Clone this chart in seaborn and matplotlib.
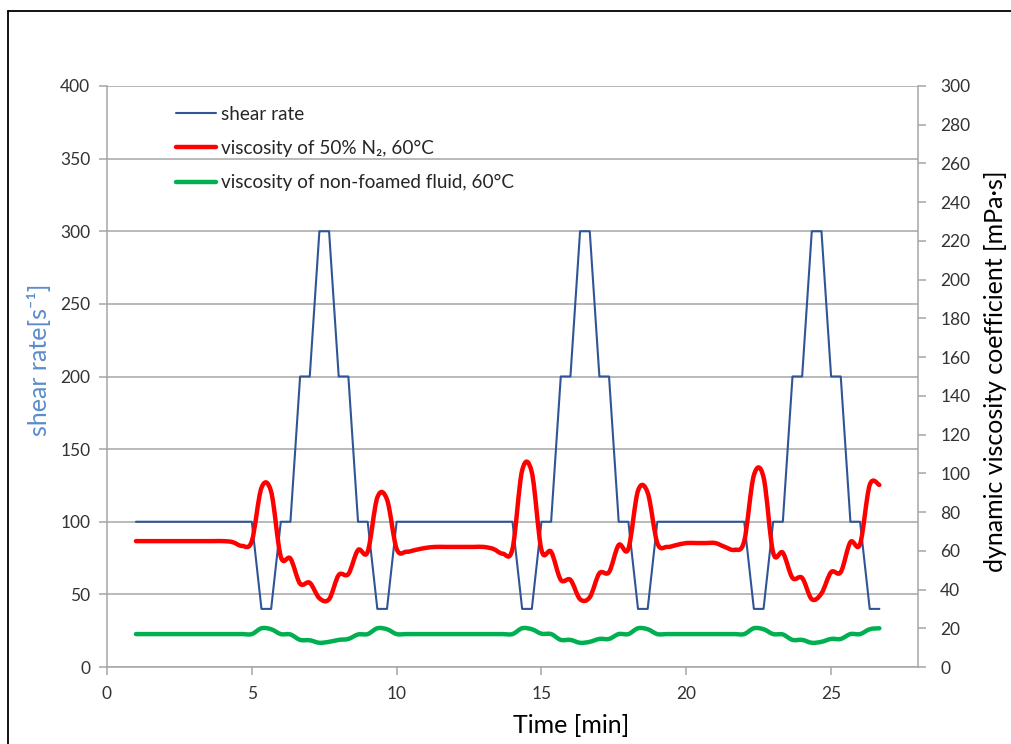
import numpy as np
import matplotlib
matplotlib.use("Agg")
import matplotlib.pyplot as plt
import seaborn as sns
import pandas as pd
from matplotlib.path import Path
from matplotlib.patches import PathPatch
from matplotlib.lines import Line2D

# ---------------- data (sampled every 20 s) ----------------
time_min = [1.0, 1.333, 1.667, 2.0, 2.333, 2.667, 3.0, 3.333, 3.667, 4.0,
            4.333, 4.667, 5.0, 5.333, 5.667, 6.0, 6.333, 6.667, 7.0, 7.333,
            7.667, 8.0, 8.333, 8.667, 9.0, 9.333, 9.667, 10.0, 10.333, 10.667,
            11.0, 11.333, 11.667, 12.0, 12.333, 12.667, 13.0, 13.333, 13.667, 14.0,
            14.333, 14.667, 15.0, 15.333, 15.667, 16.0, 16.333, 16.667, 17.0, 17.333,
            17.667, 18.0, 18.333, 18.667, 19.0, 19.333, 19.667, 20.0, 20.333, 20.667,
            21.0, 21.333, 21.667, 22.0, 22.333, 22.667, 23.0, 23.333, 23.667, 24.0,
            24.333, 24.667, 25.0, 25.333, 25.667, 26.0, 26.333, 26.667]

shear_rate = [100, 100, 100, 100, 100, 100, 100, 100, 100, 100,
              100, 100, 100, 40, 40, 100, 100, 200, 200, 300,
              300, 200, 200, 100, 100, 40, 40, 100, 100, 100,
              100, 100, 100, 100, 100, 100, 100, 100, 100, 100,
              40, 40, 100, 100, 200, 200, 300, 300, 200, 200,
              100, 100, 40, 40, 100, 100, 100, 100, 100, 100,
              100, 100, 100, 100, 40, 40, 100, 100, 200, 200,
              300, 300, 200, 200, 100, 100, 40, 40]

visc_foamed = [65, 65, 65, 65, 65, 65, 65, 65, 65, 65,
               64.5, 62.5, 65, 92.5, 90.5, 57, 56, 43, 43.5, 35.5,
               35, 47.5, 48, 60.4, 59.5, 87.5, 86.5, 61, 59.5, 60.5,
               61.5, 62, 62, 62, 62, 62, 62, 61, 58.5, 61,
               101.5, 100.5, 60.4, 59.5, 45, 45, 35, 36, 48.4, 49,
               63, 61, 91, 90, 64, 62, 63, 64, 64, 64,
               64, 62, 60.5, 65, 99, 98, 59, 59, 46, 46,
               35, 38, 49, 49, 64.5, 63.5, 94, 94]

visc_base = [17, 17, 17, 17, 17, 17, 17, 17, 17, 17,
             17, 17, 17, 20, 19.5, 17, 16.8, 14, 13.8, 12.5,
             13, 14, 14.5, 16.8, 17, 20, 19.5, 17, 17, 17,
             17, 17, 17, 17, 17, 17, 17, 17, 17, 17,
             20, 19.5, 17.2, 17, 14, 14, 12.5, 13, 14.5, 14.5,
             17, 17, 20, 19.5, 17, 17, 17, 17, 17, 17,
             17, 17, 17, 17, 20, 19.5, 17, 16.8, 14, 14,
             12.5, 13, 14.5, 14.5, 17, 17, 19.5, 20]

x_ticks = [0, 5, 10, 15, 20, 25]
left_ticks = [0, 50, 100, 150, 200, 250, 300, 350, 400]
right_ticks = list(range(0, 301, 20))

legend_labels = ["shear rate", "viscosity of 50% N\u2082, 60\u00b0C",
                 "viscosity of non-foamed fluid, 60\u00b0C"]

# ---------------- style ----------------
sns.set_theme(style="white")
plt.rcParams['font.family'] = ['Lato', 'DejaVu Sans']

BLUE = "#2F5597"
RED = "#FF0000"
GREEN = "#00B050"
GRID = "#A6A6A6"
TXT = "#333333"

W, H = 1011, 744
fig = plt.figure(figsize=(W / 100, H / 100), dpi=100)
fig.patch.set_facecolor("white")
ax = fig.add_axes([107 / W, 1 - 667 / H, (918 - 107) / W, (667 - 86) / H])

df = pd.DataFrame({"time": time_min, "shear": shear_rate})
sns.lineplot(data=df, x="time", y="shear", ax=ax, color=BLUE, lw=1.5,
             legend=False, zorder=3)

ax.set_xlim(0, 28)
ax.set_ylim(0, 400)
ax.set_xticks(x_ticks)
ax.set_yticks(left_ticks)
ax.yaxis.grid(True, color=GRID, lw=1.1)
ax.xaxis.grid(False)
for s in ["top", "right"]:
    ax.spines[s].set_visible(False)
for s in ["left", "bottom"]:
    ax.spines[s].set_color(GRID)
    ax.spines[s].set_linewidth(1.1)
ax.tick_params(axis="both", which="both", direction="out", length=6, width=1.1,
               color=GRID, labelsize=12.5, labelcolor=TXT, bottom=True, left=True)
ax.tick_params(axis="y", pad=6)
ax.tick_params(axis="x", pad=8)

ax.set_xlabel("Time [min]", fontsize=18, color="black")
ax.xaxis.set_label_coords(0.572, -0.081)
ax.set_ylabel("shear rate[s\u207b\u00b9]", fontsize=18, color="#5B8CCB")
ax.yaxis.set_label_coords(-0.069, 0.528)

# secondary axis
ax2 = ax.twinx()
ax2.set_ylim(0, 300)
ax2.set_yticks(right_ticks)
ax2.grid(False)
for s in ["top", "left", "bottom"]:
    ax2.spines[s].set_visible(False)
ax2.spines["right"].set_color(GRID)
ax2.spines["right"].set_linewidth(1.1)
ax2.tick_params(axis="y", direction="out", length=6, width=1.1, color=GRID,
                labelsize=12.5, labelcolor=TXT, right=True, pad=10)
ax2.set_ylabel("dynamic viscosity coefficient [mPa\u00b7s]", fontsize=18, color="black")
ax2.yaxis.set_label_coords(1.081, 0.509)


def smooth_path(x, y):
    """Smoothed line through the points (Catmull-Rom as cubic Bezier)."""
    x = np.asarray(x, float)
    y = np.asarray(y, float)
    n = len(x)
    verts = [(x[0], y[0])]
    codes = [Path.MOVETO]
    for i in range(n - 1):
        i0 = max(i - 1, 0)
        i3 = min(i + 2, n - 1)
        c1 = (x[i] + (x[i + 1] - x[i0]) / 6, y[i] + (y[i + 1] - y[i0]) / 6)
        c2 = (x[i + 1] - (x[i3] - x[i]) / 6, y[i + 1] - (y[i3] - y[i]) / 6)
        verts += [c1, c2, (x[i + 1], y[i + 1])]
        codes += [Path.CURVE4] * 3
    return Path(verts, codes)


ax2.add_patch(PathPatch(smooth_path(time_min, visc_base), fill=False,
                        edgecolor=GREEN, lw=3.2, capstyle="round",
                        joinstyle="round", zorder=4))
ax2.add_patch(PathPatch(smooth_path(time_min, visc_foamed), fill=False,
                        edgecolor=RED, lw=3.2, capstyle="round",
                        joinstyle="round", zorder=5))

handles = [Line2D([], [], color=BLUE, lw=1.5),
           Line2D([], [], color=RED, lw=3.2),
           Line2D([], [], color=GREEN, lw=3.2)]
ax2.legend(handles, legend_labels, loc="upper left",
           bbox_to_anchor=(176 / W, 1 - 106 / H), bbox_transform=fig.transFigure,
           frameon=False, fontsize=13.6, handlelength=2.1, handletextpad=0.3,
           labelspacing=0.9, borderaxespad=0, borderpad=0)

# outer chart border (left and top)
fig.add_artist(Line2D([8 / W, 8 / W], [0, 1 - 11 / H], color="black", lw=1.3,
                      transform=fig.transFigure))
fig.add_artist(Line2D([8 / W, 1], [1 - 11 / H, 1 - 11 / H], color="black", lw=1.3,
                      transform=fig.transFigure))

fig.savefig("out.png", dpi=100, facecolor="white")
